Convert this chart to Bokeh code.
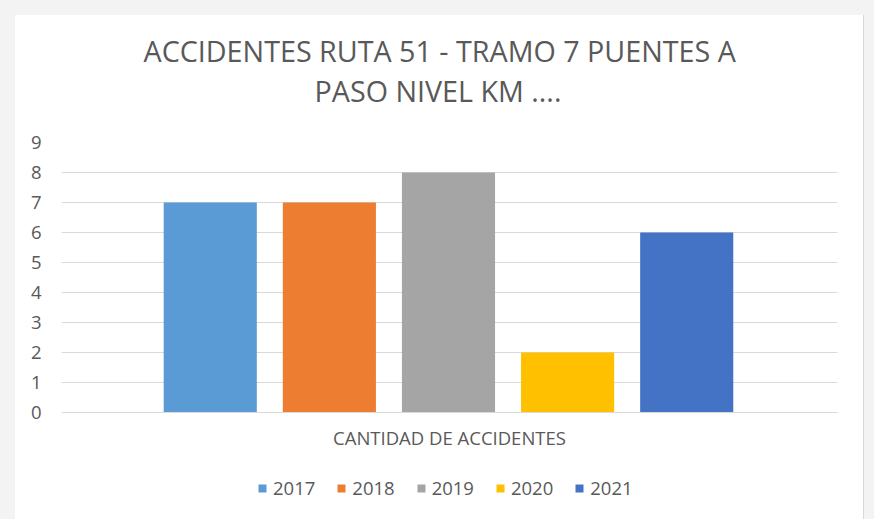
from bokeh.plotting import figure
from bokeh.layouts import column
from bokeh.models import FactorRange, Range1d, Legend, LegendItem, Title, ColumnDataSource, FixedTicker
from bokeh.transform import dodge
from bokeh.embed import file_html
from bokeh.resources import INLINE

title_lines = ["ACCIDENTES RUTA 51 - TRAMO 7 PUENTES A", "PASO NIVEL KM ...."]
category = ["CANTIDAD DE ACCIDENTES"]
years = ["2017", "2018", "2019", "2020", "2021"]
counts = [7, 7, 8, 2, 6]
y_ticks = [0, 1, 2, 3, 4, 5, 6, 7, 8, 9]

colors = ["#5B9BD5", "#ED7D31", "#A5A5A5", "#FFC000", "#4472C4"]
FONT = "Open Sans"
TXT = "#595959"
GRID = "#d9d9d9"
FS = "18.5px"

p = figure(x_range=FactorRange(factors=category), y_range=Range1d(0, 9),
           width=848, height=437, output_backend="svg", toolbar_location=None,
           min_border_left=46, min_border_right=26, min_border_top=127,
           min_border_bottom=40)

# legend strip below the chart (same series, drawn off-range, only the legend shows)
pl = figure(x_range=p.x_range, y_range=Range1d(100, 101),
            width=848, height=67, output_backend="svg", toolbar_location=None,
            min_border_left=0, min_border_right=0, min_border_top=0, min_border_bottom=0)
pl.axis.visible = False
pl.grid.visible = False
pl.outline_line_color = None
pl.background_fill_color = None
pl.border_fill_color = None

step = 0.1535
items = []
for i, (yr, c, col) in enumerate(zip(years, counts, colors)):
    src = ColumnDataSource(dict(x=category, top=[c]))
    xs = dodge("x", (i - 2) * step - 0.0013, range=p.x_range)
    p.vbar(x=xs, top="top", width=0.12, source=src, fill_color=col, line_color=None)
    rl = pl.vbar(x=xs, top="top", width=0.12, source=src, fill_color=col, line_color=None)
    items.append(LegendItem(label=yr, renderers=[rl]))

p.yaxis.ticker = FixedTicker(ticks=y_ticks)
for ax in (p.xaxis, p.yaxis):
    ax.major_tick_line_color = None
    ax.minor_tick_line_color = None
    ax.major_label_text_color = TXT
    ax.major_label_text_font = FONT
    ax.major_label_text_font_size = FS
p.yaxis.axis_line_color = None
p.yaxis.major_label_standoff = 14
p.xaxis.axis_line_color = GRID
p.xaxis.major_label_standoff = 6

p.xgrid.grid_line_color = None
p.ygrid.grid_line_color = GRID
p.ygrid.grid_line_width = 1
p.outline_line_color = None

t2 = Title(text=title_lines[1], align="left", offset=253, standoff=65,
           text_font=FONT, text_font_size="28.7px", text_font_style="normal", text_color=TXT)
t1 = Title(text=title_lines[0], align="left", offset=82, standoff=-66,
           text_font=FONT, text_font_size="28.7px", text_font_style="normal", text_color=TXT)
p.add_layout(t2, "above")
p.add_layout(t1, "above")

legend = Legend(items=items, orientation="horizontal", location=(196, 19),
                glyph_width=10, glyph_height=10, label_standoff=6, spacing=21,
                label_text_font=FONT, label_text_font_size=FS, label_text_color=TXT,
                border_line_color=None, background_fill_alpha=0, padding=4, margin=0)
pl.add_layout(legend, "center")

layout = column(p, pl, spacing=0)
layout.styles = {"outline": "1px solid #d9d9d9", "background-color": "white"}

html = file_html(layout, INLINE)
css = ("<style>html,body{background:#f3f3f3;overflow:hidden;} "
       "body{margin:15px 0 0 15px !important;}</style>")
html = html.replace("</head>", css + "</head>", 1)
open("out.html", "w").write(html)
